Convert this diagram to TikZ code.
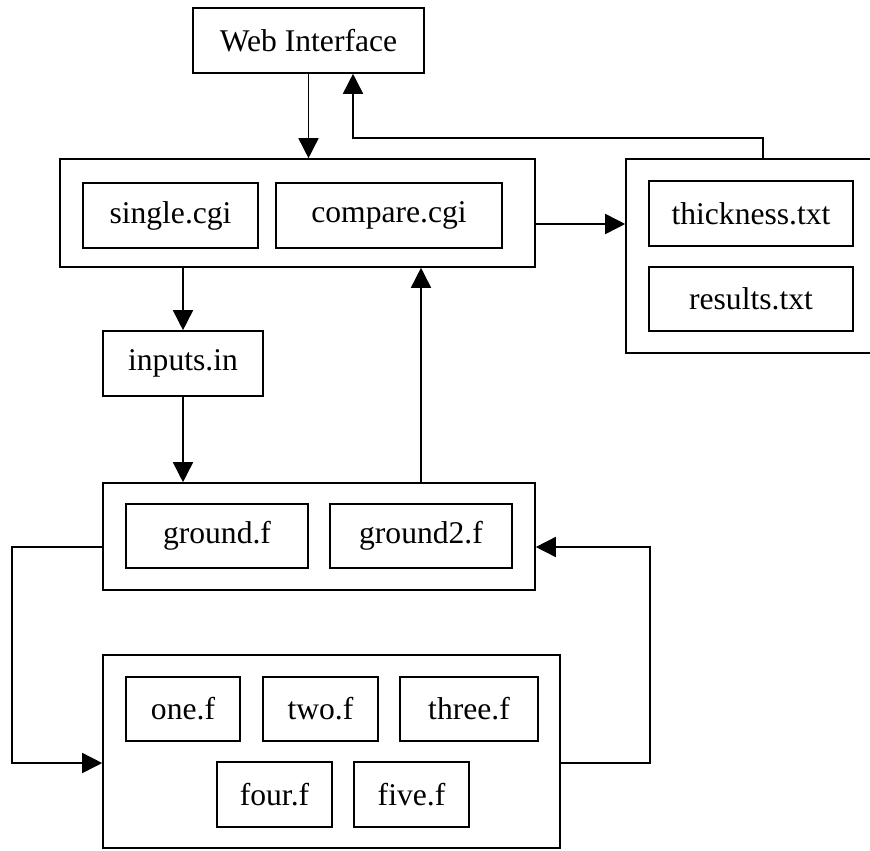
\documentclass[tikz,border=0pt]{standalone}
\usepackage{fontspec}
\setmainfont{Liberation Serif}
\usetikzlibrary{arrows.meta}

\tikzset{
  box/.style={draw, line width=0.8pt, inner sep=0pt, minimum height=32.5pt,
    font=\fontsize{15.8}{19}\selectfont},
  group/.style={draw, line width=0.8pt, inner sep=0pt},
  arr/.style={line width=0.8pt, -{Triangle[length=10pt,width=10pt]}}
}

\begin{document}
\begin{tikzpicture}[x=0.5pt, y=-0.5pt]
  \useasboundingbox (0,0) rectangle (870,850);
  \clip (0,0) rectangle (870,850);

  \node[box, minimum width=115.5pt] (web) at (308.5, 40.5) {Web Interface};

  % cgi scripts
  \node[group, minimum width=237.5pt, minimum height=54pt] (cgi) at (297.5, 213) {};
  \node[box, minimum width=87.5pt] (single) at (170.5, 215.5) {single.cgi};
  \node[box, minimum width=113pt] (compare) at (389, 215.5) {compare.cgi};

  % output files
  \node[group, minimum width=127pt, minimum height=97pt] (files) at (753, 256) {};
  \node[box, minimum width=102pt] (thick) at (751, 213.5) {thickness.txt};
  \node[box, minimum width=102pt, minimum height=32pt] (results) at (751, 299) {results.txt};

  \node[box, minimum width=80pt] (inputs) at (183, 363.5) {inputs.in};

  % ground
  \node[group, minimum width=216pt, minimum height=53.5pt] (grp) at (319, 536.5) {};
  \node[box, minimum width=91pt, minimum height=32pt] (groundf) at (217, 536) {ground.f};
  \node[box, minimum width=91pt, minimum height=32pt] (ground2) at (421, 536) {ground2.f};

  % functions
  \node[group, minimum width=228.5pt, minimum height=96.5pt] (funcs) at (331.5, 751.5) {};
  \node[box, minimum width=57pt, minimum height=32pt] (one) at (183, 709) {one.f};
  \node[box, minimum width=57.5pt, minimum height=32pt] (two) at (320.5, 709) {two.f};
  \node[box, minimum width=69pt, minimum height=32pt] (three) at (469, 709) {three.f};
  \node[box, minimum width=57.5pt] (four) at (274.5, 794.5) {four.f};
  \node[box, minimum width=57.5pt] (five) at (411.5, 794.5) {five.f};

  %% connectors
  \coordinate (bend) at (763, 138);
  \coordinate (up) at (353, 138);
  \coordinate (mid) at (0, 224);
  \coordinate (gL) at (12, 547);
  \coordinate (fL) at (12, 763);
  \coordinate (fR) at (650, 763);
  \coordinate (gR) at (650, 547);

  \draw[arr] (web.south) -- (web.south |- cgi.north);
  \draw[arr] (bend |- files.north) -- (bend) -- (up) -- (up |- web.south);
  \draw[arr] (mid -| cgi.east) -- (mid -| files.west);
  \draw[arr] (inputs.north |- cgi.south) -- (inputs.north);
  \draw[arr] (inputs.south) -- (inputs.south |- grp.north);
  \draw[arr] (ground2 |- grp.north) -- (ground2 |- cgi.south);
  \draw[arr] (gL -| grp.west) -- (gL) -- (fL) -- (fL -| funcs.west);
  \draw[arr] (fR -| funcs.east) -- (fR) -- (gR) -- (gR -| grp.east);
\end{tikzpicture}
\end{document}
